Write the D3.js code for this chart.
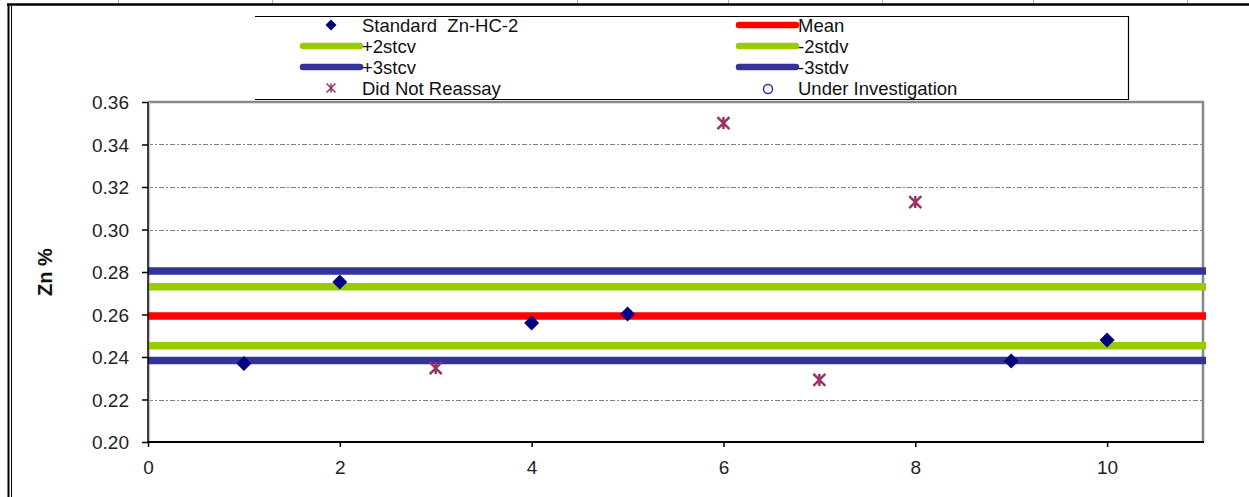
<!DOCTYPE html>
<html>
<head>
<meta charset="utf-8">
<script src="https://cdn.jsdelivr.net/npm/d3@7"></script>
<style>
  html, body { margin: 0; padding: 0; background: #fff; }
  svg { display: block; font-family: "Liberation Sans", Arial, sans-serif; }
</style>
</head>
<body>
<svg id="chart" width="1249" height="497"></svg>
<script>
// ---- data ----
const xTickValues = [0, 2, 4, 6, 8, 10];
const yTickValues = [0.20, 0.22, 0.24, 0.26, 0.28, 0.30, 0.32, 0.34, 0.36];
const gridValues = [0.22, 0.24, 0.30, 0.32, 0.34];

const standardX = [1, 2, 4, 5, 9, 10];
const standardY = [0.2370, 0.2753, 0.2560, 0.2602, 0.2381, 0.2480];

const reassayX = [3, 6, 7, 8];
const reassayY = [0.2348, 0.3501, 0.2292, 0.3129];

const limitNames  = ["+3stdv", "+2stdv", "Mean", "-2stdv", "-3stdv"];
const limitValues = [0.2805, 0.2731, 0.2593, 0.2453, 0.2383];
const limitColors = ["#333399", "#99CC00", "#FF0000", "#99CC00", "#333399"];

const legendLabels = ["Standard  Zn-HC-2", "Mean", "+2stcv", "-2stdv", "+3stcv", "-3stdv", "Did Not Reassay", "Under Investigation"];

// ---- layout ----
const svg = d3.select("#chart");
const pL = 148, pR = 1203, pT = 102, pB = 442;
const x = d3.scaleLinear().domain([0, 11]).range([pL, pR]);
const y = d3.scaleLinear().domain([0.20, 0.36]).range([pB, pT]);

// outer sheet frame
const frame = svg.append("g");
[118, 272, 577, 728, 882, 1033, 1187].forEach(cx => {
  frame.append("line").attr("x1", cx + 0.5).attr("x2", cx + 0.5).attr("y1", 0).attr("y2", 4)
    .attr("stroke", "#b0b0b0").attr("stroke-width", 1);
});
frame.append("line").attr("x1", 7).attr("x2", 1249).attr("y1", 4.5).attr("y2", 4.5)
  .attr("stroke", "#000").attr("stroke-width", 2.5);
frame.append("line").attr("x1", 8.5).attr("x2", 8.5).attr("y1", 4).attr("y2", 497)
  .attr("stroke", "#000").attr("stroke-width", 2);
frame.append("line").attr("x1", 11.5).attr("x2", 11.5).attr("y1", 6).attr("y2", 497)
  .attr("stroke", "#000").attr("stroke-width", 1);

// gridlines
svg.append("g").selectAll("line").data(gridValues).join("line")
  .attr("x1", pL).attr("x2", pR)
  .attr("y1", d => Math.round(y(d)) + 0.5).attr("y2", d => Math.round(y(d)) + 0.5)
  .attr("stroke", "#808080").attr("stroke-width", 1).attr("stroke-dasharray", "5,2,2,2");

// plot border (gray top/right)
svg.append("path")
  .attr("d", `M${pL},${pT} L${pR},${pT} L${pR},${pB}`)
  .attr("fill", "none").attr("stroke", "#888").attr("stroke-width", 2.5);
svg.append("line").attr("x1", pL + 1.5).attr("x2", pL + 1.5).attr("y1", pT).attr("y2", pB)
  .attr("stroke", "#c8c8c8").attr("stroke-width", 1.5);

// limit lines
svg.append("g").selectAll("line").data(limitValues).join("line")
  .attr("x1", pL).attr("x2", pR + 3)
  .attr("y1", d => y(d)).attr("y2", d => y(d))
  .attr("stroke", (d, i) => limitColors[i]).attr("stroke-width", 7.5);

// axes
const yAxis = d3.axisLeft(y).tickValues(yTickValues).tickFormat(d3.format(".2f")).tickSize(6).tickPadding(13);
const gy = svg.append("g").attr("transform", `translate(${pL},0)`).call(yAxis);
const xAxis = d3.axisBottom(x).tickValues(xTickValues).tickFormat(d3.format("d")).tickSize(5).tickPadding(14);
const gx = svg.append("g").attr("transform", `translate(0,${pB})`).call(xAxis);
[gx, gy].forEach(g => {
  g.select(".domain").remove();
  g.selectAll(".tick line").attr("stroke", "#000").attr("stroke-width", 1.5);
  g.selectAll(".tick text").attr("fill", "#222").style("font-size", "19px")
    .style("font-family", "'Liberation Sans', Arial, sans-serif");
});
gy.selectAll(".tick text").attr("dy", "0.36em");
svg.append("line").attr("x1", pL).attr("x2", pL).attr("y1", pT).attr("y2", pB + 1)
  .attr("stroke", "#000").attr("stroke-width", 1.5);
svg.append("line").attr("x1", pL).attr("x2", pR + 1).attr("y1", pB).attr("y2", pB)
  .attr("stroke", "#000").attr("stroke-width", 2);

// y-axis title
svg.append("text")
  .attr("transform", `translate(52,272) rotate(-90)`)
  .attr("text-anchor", "middle")
  .style("font-size", "20px").style("font-weight", "bold").attr("fill", "#111")
  .text("Zn %");

// marker helpers
function diamond(s) { return `M0,${-s} L${s},0 L0,${s} L${-s},0 Z`; }
function star(s) {
  return `M${-s},${-s} L${s},${s} M${-s},${s} L${s},${-s} M0,${-s} L0,${s}`;
}

// standard points
svg.append("g").selectAll("path").data(standardX).join("path")
  .attr("transform", (d, i) => `translate(${x(d)},${y(standardY[i])})`)
  .attr("d", diamond(7.5)).attr("fill", "#000080");

// did not reassay points
svg.append("g").selectAll("path").data(reassayX).join("path")
  .attr("transform", (d, i) => `translate(${x(d)},${y(reassayY[i])})`)
  .attr("d", star(6)).attr("fill", "none").attr("stroke", "#993366").attr("stroke-width", 2.5);

// ---- legend ----
const lg = svg.append("g");
lg.append("path").attr("d", "M255,16.5 L1128.5,16.5 L1128.5,99.5 L255,99.5")
  .attr("fill", "none").attr("stroke", "#000").attr("stroke-width", 1.2);
const rowsY = [25, 46, 67, 88];
const colLineX = [[303, 360], [739, 796]];
const colTextX = [362, 798];
lg.append("path").attr("transform", `translate(331,${rowsY[0]})`).attr("d", diamond(5.5)).attr("fill", "#000080");
const lineEntries = [[0, 1, "#FF0000"], [1, 0, "#99CC00"], [1, 1, "#99CC00"], [2, 0, "#333399"], [2, 1, "#333399"]];
lineEntries.forEach(([r, c, col]) => {
  lg.append("line").attr("x1", colLineX[c][0]).attr("x2", colLineX[c][1])
    .attr("y1", rowsY[r]).attr("y2", rowsY[r])
    .attr("stroke", col).attr("stroke-width", 6.5).attr("stroke-linecap", "round");
});
lg.append("path").attr("transform", `translate(331,${rowsY[3]})`).attr("d", star(4.5))
  .attr("fill", "none").attr("stroke", "#993366").attr("stroke-width", 1.5);
lg.append("circle").attr("cx", 768).attr("cy", rowsY[3] + 1).attr("r", 4.5)
  .attr("fill", "none").attr("stroke", "#333399").attr("stroke-width", 1.5);
legendLabels.forEach((t, i) => {
  const r = Math.floor(i / 2), c = i % 2;
  lg.append("text").attr("x", colTextX[c]).attr("y", rowsY[r] + 7)
    .style("font-size", "18.5px").attr("fill", "#111").style("white-space", "pre")
    .attr("xml:space", "preserve").text(t);
});
</script>
</body>
</html>
